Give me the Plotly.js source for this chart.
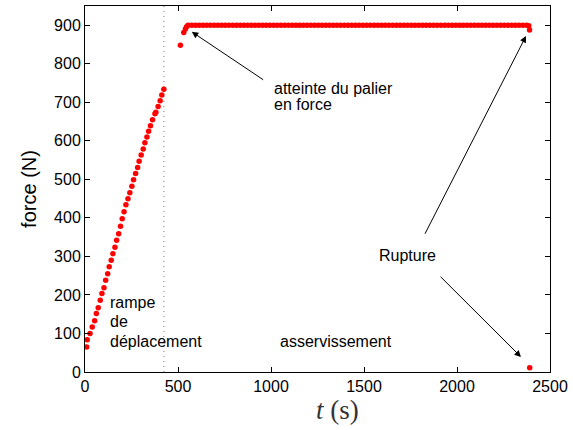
<!DOCTYPE html>
<html>
<head>
<meta charset="utf-8">
<script src="https://cdn.plot.ly/plotly-3.0.1.min.js"></script>
<style>html,body{margin:0;padding:0;background:#fff;}#chart{width:573px;height:430px;}</style>
</head>
<body>
<div id="chart"></div>
<script>
// Ramp phase (displacement ramp)
const rampT = [9, 12, 27, 39, 52, 61, 71, 82, 91, 102, 111, 122, 130, 141, 150, 161, 170, 181, 191, 200, 210, 220, 231, 241, 252, 261, 272, 283, 291, 302, 313, 322, 333, 342, 352, 363, 376, 381, 393, 404, 413, 424];
const rampF = [65, 84, 100, 117, 133, 152, 167, 186, 204, 219, 238, 255, 273, 290, 307, 324, 342, 359, 378, 398, 416, 434, 450, 465, 482, 499, 515, 531, 547, 563, 579, 595, 610, 625, 639, 655, 670, 674, 689, 704, 719, 734];
// Transition to force plateau
const transT = [513, 531, 540, 546];
const transF = [848, 881, 890, 896];
// Force plateau
const plateauT = [554,574,594,614,634,654,674,694,714,734,754,774,794,814,834,854,874,894,914,934,954,974,994,1014,1034,1054,1074,1094,1114,1134,1154,1174,1194,1214,1234,1254,1274,1294,1314,1334,1354,1374,1394,1414,1434,1454,1474,1494,1514,1534,1554,1574,1594,1614,1634,1654,1674,1694,1714,1734,1754,1774,1794,1814,1834,1854,1874,1894,1914,1934,1954,1974,1994,2014,2034,2054,2074,2094,2114,2134,2154,2174,2194,2214,2234,2254,2274,2294,2314,2334,2354,2374,2386];
const plateauF = [900,900,900,900,900,900,900,900,900,900,900,900,900,900,900,900,900,900,900,900,900,900,900,900,900,900,900,900,900,900,900,900,900,900,900,900,900,900,900,900,900,900,900,900,900,900,900,900,900,900,900,900,900,900,900,900,900,900,900,900,900,900,900,900,900,900,900,900,900,900,900,900,900,900,900,900,900,900,900,900,900,900,900,900,900,900,900,900,900,900,900,900,899];
// Rupture
const ruptureT = [2390, 2391];
const ruptureF = [888, 11];

const rampEnd = 424;
const xTicks = [0, 500, 1000, 1500, 2000, 2500];
const yTicks = [0, 100, 200, 300, 400, 500, 600, 700, 800, 900];

const allT = rampT.concat(transT, plateauT, ruptureT);
const allF = rampF.concat(transF, plateauF, ruptureF);

const traces = [
  {
    x: [rampEnd, rampEnd], y: [0, 950], mode: 'lines', type: 'scatter',
    line: {color: '#777', width: 1, dash: '1px,4px'}, hoverinfo: 'skip', showlegend: false
  },
  {
    x: allT, y: allF, mode: 'markers', type: 'scatter',
    marker: {color: '#ff0000', size: 5.5, line: {width: 0}}, showlegend: false
  }
];

const sans = 'Liberation Sans, Arial, Helvetica, sans-serif';
const annFont = {family: sans, size: 16, color: '#000'};

function arrow(tx, ty, hx, hy) {
  return {x: hx, y: hy, ax: tx, ay: ty, xref: 'x', yref: 'y', axref: 'x', ayref: 'y',
    text: '', showarrow: true, arrowhead: 2, arrowsize: 1.3, arrowwidth: 1, arrowcolor: '#000'};
}
function label(x, y, text, anchor) {
  return {x: x, y: y, xref: 'x', yref: 'y', text: text, showarrow: false,
    xanchor: anchor, yanchor: 'middle', align: 'left', font: annFont};
}

const layout = {
  width: 573, height: 430,
  margin: {l: 85, r: 23, t: 6, b: 58, pad: 0},
  paper_bgcolor: '#fff', plot_bgcolor: '#fff',
  font: {family: sans, color: '#000'},
  xaxis: {
    range: [0, 2500], tickvals: xTicks, ticks: 'inside', ticklen: 5, tickcolor: '#000',
    showline: true, linecolor: '#000', linewidth: 1, mirror: 'ticks', showgrid: false, zeroline: false,
    tickfont: {family: sans, size: 16, color: '#000'},
    title: {text: ''}
  },
  yaxis: {
    range: [0, 950], tickvals: yTicks, ticks: 'inside', ticklen: 5, tickcolor: '#000',
    showline: true, linecolor: '#000', linewidth: 1, mirror: 'ticks', showgrid: false, zeroline: false,
    tickfont: {family: sans, size: 16, color: '#000'},
    title: {text: 'force (N)', font: {family: sans, size: 20, color: '#000'}, standoff: 12}
  },
  annotations: [
    {xref: 'paper', yref: 'paper', x: 0.542, y: -0.104, xanchor: 'center', yanchor: 'middle',
      text: '<i>t</i> (s)', showarrow: false,
      font: {family: 'Liberation Serif, DejaVu Serif, serif', size: 27, color: '#333'}},
    arrow(966, 756, 574, 883),
    label(1003, 735, 'atteinte du palier', 'left'),
    label(1003, 694, 'en force', 'left'),
    label(1733, 303, 'Rupture', 'center'),
    arrow(1824, 355, 2371, 872),
    arrow(1904, 251, 2344, 39),
    label(123, 181, 'rampe', 'left'),
    label(123, 130, 'de', 'left'),
    label(123, 78, 'déplacement', 'left'),
    label(1352, 80, 'asservissement', 'center')
  ]
};

Plotly.newPlot('chart', traces, layout, {staticPlot: true, displayModeBar: false});
</script>
</body>
</html>
